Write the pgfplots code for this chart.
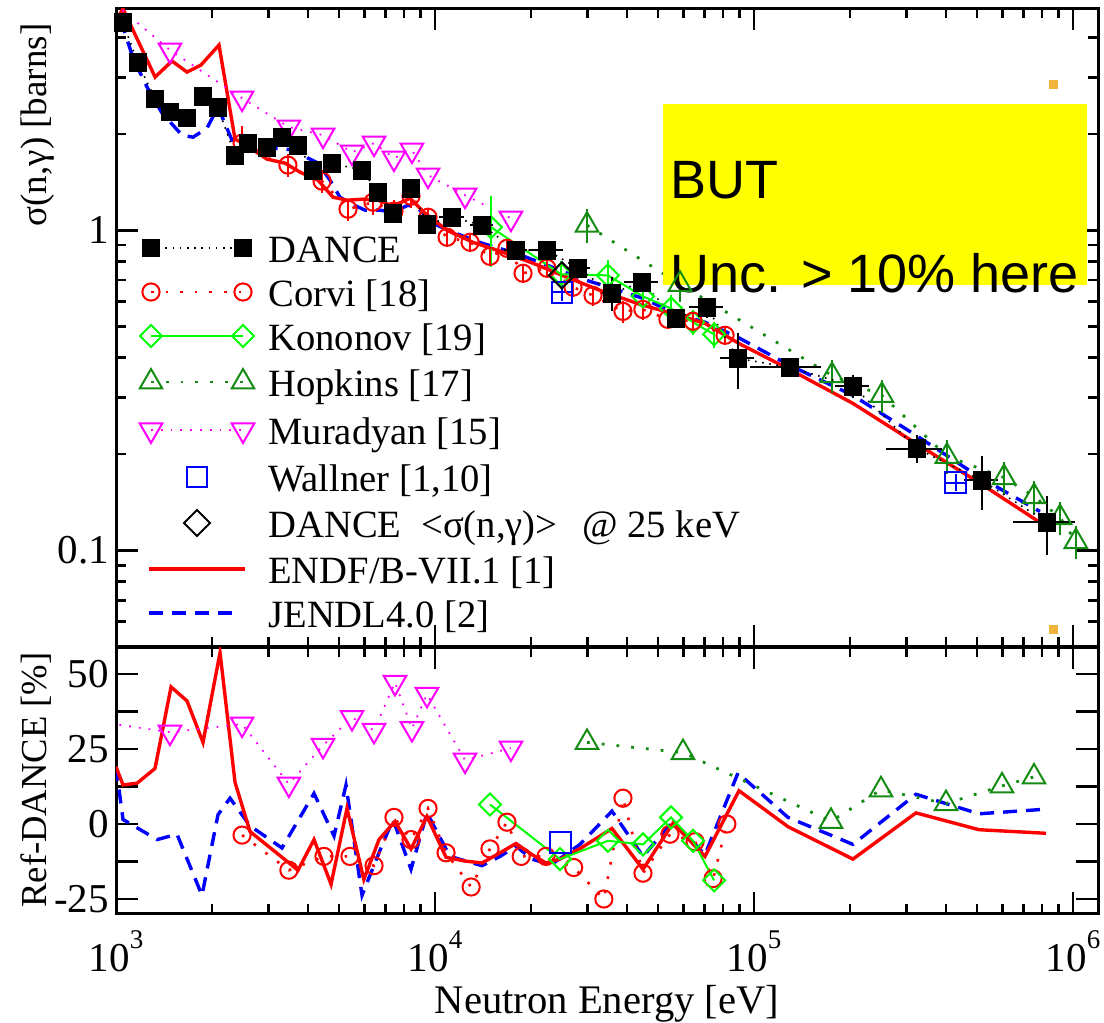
\documentclass[border=0pt]{standalone}
\usepackage{fontspec}
\setmainfont{Liberation Serif}
\newfontfamily\arialfont{Liberation Sans}
\usepackage{pgfplots}
\pgfplotsset{compat=1.18}
\usepackage{pgfplotstable}

\definecolor{hgreen}{RGB}{20,140,20}
\definecolor{kgreen}{RGB}{0,255,0}
\definecolor{morange}{RGB}{240,180,60}
\definecolor{mymag}{RGB}{255,0,255}
\definecolor{myyellow}{RGB}{255,255,0}
\definecolor{myred}{RGB}{255,0,0}
\definecolor{myblue}{RGB}{0,0,255}

\tikzset{
 dancest/.style={black, line width=0.8pt, dash pattern=on 0.8pt off 2.8pt, mark=square*, mark size=4.3pt, mark options={solid, fill=black}},
 corvist/.style={myred, line width=1.3pt, dash pattern=on 1.3pt off 6pt, mark=o, mark size=4.3pt, mark options={solid, line width=1pt}},
 kononovst/.style={kgreen, line width=1pt, solid, mark=square, mark size=3.9pt, mark options={solid, rotate=45, line width=1pt}},
 hopkinsst/.style={hgreen, line width=1.4pt, dash pattern=on 1.4pt off 6pt, mark=triangle, mark size=6.5pt, mark options={solid, line width=1pt}},
 muradyanst/.style={mymag, line width=0.9pt, dash pattern=on 0.9pt off 4pt, mark=triangle, mark size=6.5pt, mark options={solid, rotate=180, line width=1pt}},
 wallnerst/.style={myblue, mark=square, mark size=5.2pt, mark options={solid, line width=1pt}},
 sigst/.style={black, mark=square, mark size=4.6pt, mark options={solid, rotate=45, line width=1pt}},
 endfst/.style={myred, line width=1.7pt, solid},
 jendlst/.style={myblue, line width=1.7pt, dash pattern=on 7pt off 4.5pt},
 legtext/.style={anchor=base west, inner sep=0pt, font=\fontsize{19.3}{23}\selectfont},
}

\pgfplotstableread{
E s ex ey
1052 4.44 0.03 0.03
1172 3.33 0.03 0.03
1325 2.57 0.03 0.03
1477 2.34 0.03 0.03
1670 2.24 0.03 0.03
1874 2.62 0.03 0.03
2088 2.41 0.03 0.03
2361 1.716 0.03 0.04
2593 1.870 0.03 0.04
2974 1.817 0.03 0.04
3314 1.952 0.03 0.04
3720 1.843 0.03 0.04
4146 1.540 0.04 0.05
4754 1.619 0.04 0.05
5905 1.540 0.04 0.05
6626 1.315 0.04 0.05
7384 1.130 0.04 0.05
8410 1.353 0.04 0.05
9438 1.044 0.05 0.05
11300 1.098 0.09 0.05
14040 1.037 0.08 0.05
17950 0.866 0.08 0.05
22440 0.866 0.12 0.05
28070 0.761 0.09 0.05
35880 0.636 0.07 0.12
44570 0.688 0.12 0.07
56950 0.531 0.06 0.06
71240 0.574 0.12 0.07
89070 0.398 0.12 0.20
129700 0.373 0.25 0.05
204300 0.326 0.12 0.08
324300 0.208 0.20 0.10
518400 0.1655 0.12 0.19
828700 0.1224 0.22 0.21
}\dancetop

\pgfplotstableread{
E s ey
2484 1.870 0.13
3459 1.597 0.08
4426 1.423 0.08
5337 1.163 0.08
6392 1.223 0.09
7437 1.147 0.08
8410 1.277 0.08
9509 1.098 0.07
10910 0.951 0.07
12880 0.917 0.07
14870 0.829 0.07
16810 0.878 0.07
18880 0.734 0.07
22440 0.761 0.07
27080 0.664 0.07
31290 0.626 0.07
38840 0.558 0.08
44840 0.566 0.07
53710 0.527 0.07
64390 0.520 0.07
81150 0.470 0.07
}\corvitop

\pgfplotstableread{
E s ey
14980 1.022 0.25
24830 0.729 0.10
34830 0.723 0.12
44840 0.622 0.09
54940 0.570 0.10
64390 0.516 0.09
74980 0.473 0.09
}\kononovtop

\pgfplotstableread{
E s ey
29960 1.037 0.12
58610 0.678 0.12
175600 0.352 0.12
251800 0.305 0.12
402600 0.197 0.12
607900 0.169 0.12
755200 0.1475 0.12
910500 0.1268 0.12
1021000 0.1067 0.12
}\hopkinstop

\pgfplotstableread{
E s
891 5.57
1476 3.65
2484 2.585
3483 2.099
4457 1.981
5495 1.753
6440 1.870
7437 1.679
8466 1.778
9509 1.486
12420 1.286
17300 1.090
}\muradyantop

\pgfplotstableread{
E s
1000 4.53
1052 4.91
1326 3.007
1498 3.374
1670 3.117
1847 3.279
2103 3.786
2361 1.925
2501 1.870
2974 1.667
3386 1.620
3774 1.518
4297 1.433
4789 1.268
5298 1.241
5947 1.250
6626 1.241
7384 1.189
8350 1.259
9305 1.130
10900 1.000
13150 0.917
15990 0.860
20290 0.789
25930 0.713
32900 0.649
43910 0.587
55340 0.550
70220 0.512
89740 0.443
127800 0.370
204300 0.288
321900 0.216
507300 0.163
823000 0.119
}\endftop

\pgfplotstableread{
E s
1000 4.217
1052 4.31
1131 3.447
1251 2.798
1394 2.321
1610 1.981
1744 1.952
1929 2.084
2088 2.423
2310 1.910
2575 1.817
3106 1.804
3693 1.778
3999 1.679
4297 1.620
4687 1.433
5037 1.268
5413 1.214
6034 1.155
6723 1.155
7384 1.138
8230 1.197
8846 1.172
9856 1.052
11140 0.993
14040 0.911
17950 0.847
22940 0.772
28480 0.708
35880 0.659
44870 0.613
55730 0.554
70220 0.516
89070 0.463
127800 0.381
204300 0.305
321900 0.229
507300 0.170
788000 0.1324
}\jendltop

\pgfplotstableread{
E r
1000 19.1
1052 13.0
1164 13.6
1325 18.5
1488 45.7
1670 41.0
1874 27.2
2119 57.1
2361 13.9
2630 -2.5
3720 -15.4
4176 -5.2
4722 -20.1
5298 5.2
5985 -18.5
6675 -5.2
7492 0.9
8410 -8.3
9438 2.5
10830 -11.1
12330 -12.3
14040 -13.0
15990 -9.6
17950 -6.5
20140 -10.2
22280 -13.0
24650 -11.7
28690 -8.0
35880 -1.5
44870 -15.1
55730 0.3
70220 -10.8
89740 11.1
127800 -0.9
204300 -11.7
321900 3.7
507300 -1.9
823000 -3.1
}\endfbot

\pgfplotstableread{
E r
1000 19.1
1052 1.5
1345 -5.2
1553 -3.4
1860 -23.8
2088 3.1
2277 8.6
2630 -0.6
3314 -8.0
4176 10.2
4825 -4.0
5260 13.0
5905 -23.8
6675 -9.6
7384 1.5
8410 -15.1
9438 3.7
11140 -10.8
14040 -13.9
15990 -10.8
17950 -7.4
20140 -11.7
23100 -13.6
28480 -6.8
35880 4.3
44870 -10.8
55730 0.9
70220 -10.2
89070 17.0
127800 2.2
204300 -6.8
321900 9.9
507300 3.4
811000 4.9
}\jendlbot

\pgfplotstableread{
E r
2484 -3.7
3483 -15.4
4486 -10.8
5413 -10.8
6440 -13.9
7437 2.2
8410 -5.2
9509 5.2
10830 -9.6
12980 -21.0
14870 -8.3
16810 0.6
18630 -10.8
22280 -10.8
27210 -14.5
33830 -25.0
38840 8.6
44870 -16.4
54540 -3.4
65340 -5.9
74440 -18.2
82220 0.0
}\corvibot

\pgfplotstableread{
E r
14870 6.5
24650 -11.7
34850 -5.6
44870 -6.8
54940 2.2
64390 -5.6
74980 -18.8
}\kononovbot

\pgfplotstableread{
E r
29960 27.2
59900 23.8
174300 0.9
250100 11.4
399900 6.8
599100 12.7
754800 15.7
}\hopkinsbot

\pgfplotstableread{
E r
891 34
1476 30.6
2484 33.3
3483 13.3
4456 26.2
5494 35.5
6440 31.2
7492 47.2
8466 31.8
9438 43.2
12420 21.3
17300 25.3
}\muradyanbot

\begin{document}
\begin{tikzpicture}
\useasboundingbox (0,0) rectangle (552pt,511.5pt);

% ================= TOP PANEL =================
\begin{axis}[
  scale only axis, width=491pt, height=319.5pt,
  at={(58pt,188pt)}, anchor=south west,
  xmode=log, ymode=log, xmin=1000, xmax=1.198e6, ymin=0.05, ymax=4.94,
  axis line style={line width=1.5pt},
  major tick style={line width=1.3pt, black},
  minor tick style={line width=1.3pt, black},
  tick align=inside, major tick length=11pt, minor tick length=5pt,
  xtick={1000,10000,100000,1000000},
  minor xtick={2000,3000,4000,5000,6000,7000,8000,9000,20000,30000,40000,50000,60000,70000,80000,90000,200000,300000,400000,500000,600000,700000,800000,900000},
  tick label style={font=\fontsize{20.5}{24}\selectfont},
  ytick={0.1,1}, yticklabels={0.1,1},
  minor ytick={0.06,0.07,0.08,0.09,0.2,0.3,0.4,0.5,0.6,0.7,0.8,0.9,2,3,4},
  xticklabels={},
  ylabel={σ(n,γ) [barns]},
  ylabel style={at={(axis description cs:-0.0794,0.817)}, anchor=center, font=\fontsize{18.5}{22}\selectfont},
]
\addplot[jendlst] table[x=E, y=s] {\jendltop};
\addplot[endfst] table[x=E, y=s] {\endftop};
\addplot[muradyanst] table[x=E, y=s] {\muradyantop};
\addplot[hopkinsst, error bars/.cd, y dir=both, y explicit relative, error mark=none, error bar style={solid, line width=1pt}] table[x=E, y=s, y error=ey] {\hopkinstop};
\addplot[kononovst, error bars/.cd, y dir=both, y explicit relative, error mark=none, error bar style={solid, line width=1pt}] table[x=E, y=s, y error=ey] {\kononovtop};
\addplot[corvist, error bars/.cd, y dir=both, y explicit relative, error mark=none, error bar style={solid, line width=1pt}] table[x=E, y=s, y error=ey] {\corvitop};
\addplot[dancest, error bars/.cd, x dir=both, x explicit relative, y dir=both, y explicit relative, error mark=none, error bar style={solid, line width=1pt}] table[x=E, y=s, x error=ex, y error=ey] {\dancetop};
\addplot[wallnerst, only marks, error bars/.cd, x dir=both, x explicit relative, y dir=both, y explicit relative, error mark=none, error bar style={solid, line width=1pt}] table[x=E, y=s, x error=ex, y error=ey] {
E s ex ey
25000 0.640 0.07 0.06
429000 0.163 0.07 0.06
};
\addplot[sigst, only marks] coordinates {(25000,0.723)};
\addplot[only marks, mark=square*, mark size=2pt, color=morange] coordinates {(865000,2.86) (865000,0.0566)};

\fill[myyellow] (axis cs:51840,0.673) rectangle (axis cs:1.106e6,2.477);
\node[anchor=base west, inner sep=0pt, font=\arialfont\fontsize{27}{30}\selectfont] at (axis cs:54500,1.259) {BUT};
\node[anchor=base west, inner sep=0pt, font=\arialfont\fontsize{27}{30}\selectfont] at (axis cs:54500,0.640) {Unc. > 10\% here};
\end{axis}

% ================= LEGEND (overlay axis in pixel-like units) =================
\begin{axis}[
  scale only axis, width=491pt, height=319.5pt,
  at={(58pt,188pt)}, anchor=south west,
  xmin=0, xmax=982, ymin=0, ymax=639, hide axis, clip=false,
]
\addplot[dancest] coordinates {(35,399) (127,399)};
\addplot[corvist] coordinates {(35,355) (127,355)};
\addplot[kononovst] coordinates {(35,311) (127,311)};
\addplot[hopkinsst] coordinates {(35,265) (127,265)};
\addplot[muradyanst] coordinates {(35,217) (127,217)};
\addplot[wallnerst, only marks] coordinates {(81,170)};
\addplot[sigst, only marks] coordinates {(81,124)};
\addplot[endfst] coordinates {(33,78) (129,78)};
\addplot[jendlst] coordinates {(33,34) (119,34)};
\node[legtext] at (axis cs:152,384) {DANCE};
\node[legtext] at (axis cs:152,340) {Corvi [18]};
\node[legtext] at (axis cs:152,296) {Kononov [19]};
\node[legtext] at (axis cs:152,250) {Hopkins [17]};
\node[legtext] at (axis cs:152,202) {Muradyan [15]};
\node[legtext] at (axis cs:152,155) {Wallner [1,10]};
\node[legtext] at (axis cs:152,109) {DANCE\hspace{10pt}<σ(n,γ)>\hspace{12.5pt}@ 25 keV};
\node[legtext] at (axis cs:152,63) {ENDF/B-VII.1 [1]};
\node[legtext] at (axis cs:152,19) {JENDL4.0 [2]};
\end{axis}

% ================= BOTTOM PANEL =================
\begin{axis}[
  scale only axis, width=491pt, height=133.5pt,
  at={(58pt,54.5pt)}, anchor=south west,
  xmode=log, xmin=1000, xmax=1.198e6, ymin=-30, ymax=59,
  axis line style={line width=1.5pt},
  major tick style={line width=1.3pt, black},
  minor tick style={line width=1.3pt, black},
  tick align=inside, major tick length=11pt, minor tick length=5pt,
  xtick={1000,10000,100000,1000000},
  minor xtick={2000,3000,4000,5000,6000,7000,8000,9000,20000,30000,40000,50000,60000,70000,80000,90000,200000,300000,400000,500000,600000,700000,800000,900000},
  tick label style={font=\fontsize{20.5}{24}\selectfont},
  ytick={-25,-12.5,0,12.5,25,37.5,50},
  yticklabels={-25,,0,,25,,50},
  xticklabels={10\raisebox{11.5pt}{\fontsize{13.5}{14}\selectfont 3},10\raisebox{11.5pt}{\fontsize{13.5}{14}\selectfont 4},10\raisebox{11.5pt}{\fontsize{13.5}{14}\selectfont 5},10\raisebox{11.5pt}{\fontsize{13.5}{14}\selectfont 6}},
  xticklabel style={anchor=base, yshift=-29pt},
  xlabel={Neutron Energy [eV]},
  xlabel style={at={(axis description cs:0.5,0)}, anchor=base, yshift=-49.5pt, font=\fontsize{20.3}{24}\selectfont},
  ylabel={Ref-DANCE [\%]},
  ylabel style={at={(axis description cs:-0.0815,0.502)}, anchor=center, font=\fontsize{18.3}{22}\selectfont},
]
\addplot[jendlst] table[x=E, y=r] {\jendlbot};
\addplot[endfst] table[x=E, y=r] {\endfbot};
\addplot[muradyanst] table[x=E, y=r] {\muradyanbot};
\addplot[hopkinsst] table[x=E, y=r] {\hopkinsbot};
\addplot[corvist] table[x=E, y=r] {\corvibot};
\addplot[kononovst] table[x=E, y=r] {\kononovbot};
\addplot[wallnerst, only marks] coordinates {(24800,-6.2)};
\end{axis}
\end{tikzpicture}
\end{document}
